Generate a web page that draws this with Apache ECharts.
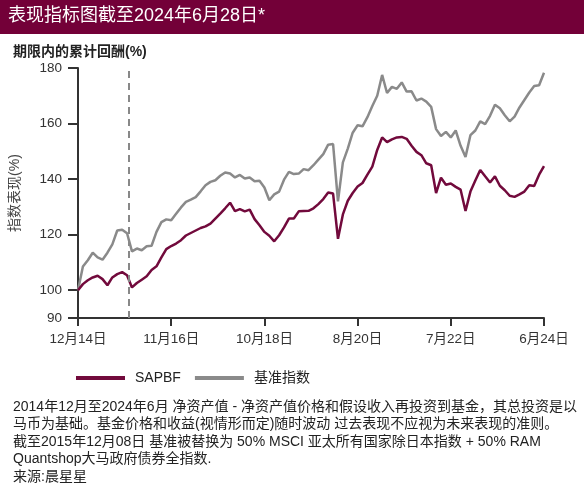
<!DOCTYPE html>
<html>
<head>
<meta charset="utf-8">
<script src="https://cdn.jsdelivr.net/npm/echarts@6/dist/echarts.min.js"></script>
<style>
html,body{margin:0;padding:0;background:#fff;}
#chart{width:584px;height:492px;}
</style>
</head>
<body>
<div id="chart"></div>
<script>
// ---- data ----
var tickLabels = ['12月14日', '11月16日', '10月18日', '8月20日', '7月22日', '6月24日'];
var yTicks = [90, 100, 120, 140, 160, 180];
var seriesNames = ['SAPBF', '基准指数'];
var sapbf = [
  100, 102.2, 103.6, 104.6, 105.2, 104, 101.8, 104.6, 105.8, 106.5,
  105.4, 101, 102.6, 103.8, 105, 107.3, 108.6, 111.8, 114.8, 115.9,
  116.8, 118, 119.7, 120.6, 121.5, 122.4, 123, 124, 125.8, 127.6,
  129.5, 131.5, 128.5, 129.2, 128.4, 129, 125.6, 123.4, 121, 119.6,
  117.6, 119.8, 122.6, 125.8, 125.8, 128.4, 128.5, 128.6, 129.5, 131,
  132.8, 135.2, 134.8, 118.5, 127.3, 132.2, 135, 137.3, 138.6, 141.6,
  144.5, 150.5, 155, 153.3, 154.3, 155, 155.2, 154.5, 152, 149.8,
  148.6, 145.7, 145, 135, 140.5, 138, 138.4, 137.2, 136.2, 128.5,
  135.5, 139.5, 143.3, 141, 138.8, 141, 137.6, 136, 134, 133.6,
  134.5, 135.5, 137.8, 137.5, 141.6, 144.7
];
var benchmark = [
  100, 108.5, 110.8, 113.5, 111.8, 111, 113.5, 116.5, 121.5, 121.8,
  120.5, 114, 115, 114.4, 115.8, 116, 121, 124.5, 125.5, 125.2,
  127.5, 129.8, 131.8, 132.6, 133.5, 135.6, 137.8, 139, 139.6, 141.2,
  142.4, 142, 140.6, 141.5, 140.2, 140.6, 139.2, 139.4, 137, 132.4,
  134.5, 135.5, 139.8, 142.6, 141.8, 142, 143.6, 143.2, 145, 147,
  149, 152.4, 152.6, 132, 146, 151, 156.7, 159.4, 159, 162.3,
  166.3, 170, 177.5, 171, 173.2, 172.5, 174.8, 171.5, 171.6, 168.3,
  169, 167.9, 166, 158, 155.5, 157, 155, 157.5, 152, 148,
  155.8, 157.5, 160.8, 159.8, 162.8, 166.8, 165.5, 163, 160.8, 162.5,
  165.8, 168.5, 171.2, 173.5, 173.8, 178.3
];
var pointsPerTick = 19;
var benchmarkChangeIndex = 10.35; // 2015-12-08
var footnotes = [
  '2014年12月至2024年6月 净资产值 - 净资产值价格和假设收入再投资到基金，其总投资是以',
  '马币为基础。基金价格和收益(视情形而定)随时波动 过去表现不应视为未来表现的准则。',
  '截至2015年12月08日 基准被替换为 50% MSCI 亚太所有国家除日本指数 + 50% RAM',
  'Quantshop大马政府债券全指数.',
  '来源:晨星星'
];
var titleText = '表现指标图截至2024年6月28日*';
var subTitleText = '期限内的累计回酬(%)';
var yAxisName = '指数表现(%)';

// ---- chart ----
var FONT = "'Liberation Sans', 'Noto Sans CJK SC', sans-serif";
var RED = '#720a3c';
var GRAY = '#8a8a8a';
var AXIS = '#333333';
var chart = echarts.init(document.getElementById('chart'), null, {renderer: 'canvas'});
var maxIndex = sapbf.length - 1;

var option = {
  animation: false,
  textStyle: {fontFamily: FONT},
  grid: {left: 73, right: 40, top: 68, bottom: 174, containLabel: false},
  xAxis: {
    type: 'value', min: 0, max: maxIndex, interval: pointsPerTick,
    axisLine: {show: true, lineStyle: {color: AXIS, width: 2}},
    axisTick: {show: true, length: 8, lineStyle: {color: AXIS, width: 2}},
    axisLabel: {
      margin: 15, fontSize: 13.5, color: '#333', fontFamily: FONT,
      formatter: function (v) { return tickLabels[Math.round(v / pointsPerTick)] || ''; }
    },
    splitLine: {show: false}
  },
  yAxis: {
    type: 'value', min: 90, max: 180, interval: 10,
    name: yAxisName, nameLocation: 'middle', nameGap: 56,
    nameTextStyle: {fontSize: 14, color: '#444', fontFamily: FONT},
    axisLine: {show: true, lineStyle: {color: AXIS, width: 2}},
    axisTick: {show: true, length: 10, customValues: yTicks, lineStyle: {color: AXIS, width: 2}},
    axisLabel: {margin: 16, fontSize: 13.5, color: '#333', customValues: yTicks, fontFamily: FONT},
    splitLine: {show: false}
  },
  legend: {
    data: seriesNames, left: 71, top: 366, icon: 'rect',
    itemWidth: 49, itemHeight: 4, itemGap: 14,
    textStyle: {fontSize: 14, color: '#222', fontFamily: FONT, padding: [0, 0, 0, 5]}
  },
  series: [
    {
      name: seriesNames[0], type: 'line', showSymbol: false, z: 3,
      data: sapbf.map(function (v, i) { return [i, v]; }),
      lineStyle: {color: RED, width: 2.5}, itemStyle: {color: RED}
    },
    {
      name: seriesNames[1], type: 'line', showSymbol: false, z: 2,
      data: benchmark.map(function (v, i) { return [i, v]; }),
      lineStyle: {color: GRAY, width: 2.5}, itemStyle: {color: GRAY},
      markLine: {
        silent: true, symbol: 'none', label: {show: false},
        lineStyle: {color: '#888', type: [7, 5], width: 2},
        data: [{xAxis: benchmarkChangeIndex}]
      }
    }
  ],
  graphic: [
    {type: 'rect', left: 0, top: 0, shape: {width: 584, height: 34}, style: {fill: '#730038'}, silent: true},
    {type: 'text', left: 8, top: 7, style: {text: titleText, fill: '#fff', font: '18px ' + FONT}},
    {type: 'text', left: 13, top: 45, style: {text: subTitleText, fill: '#222', font: 'bold 14px ' + FONT}},
    {type: 'text', left: 13, top: 398, style: {text: footnotes.join('\n'), fill: '#222', font: '14px ' + FONT, lineHeight: 17.6}}
  ]
};
chart.setOption(option);
</script>
</body>
</html>
